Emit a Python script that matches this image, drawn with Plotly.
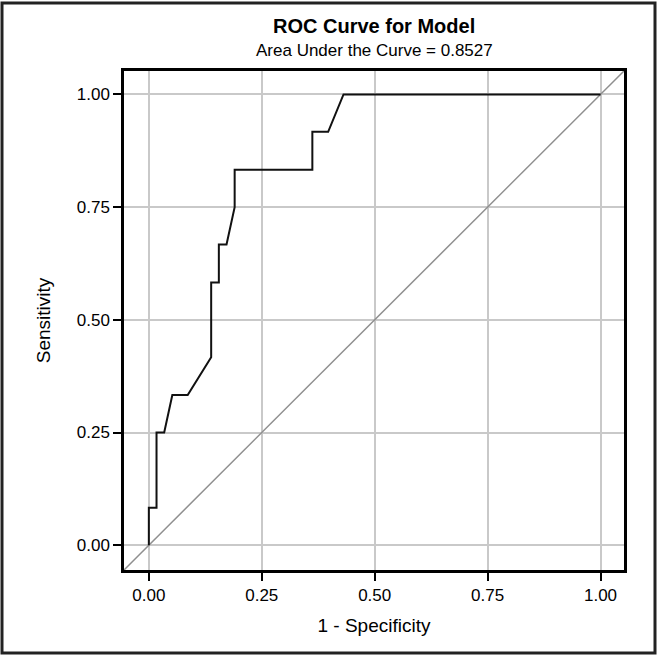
import plotly.graph_objects as go

# ROC curve points (1 - specificity, sensitivity)
fpr = [0.0, 0.0, 0.017, 0.017, 0.034, 0.052, 0.086, 0.138, 0.138, 0.155, 0.155,
       0.172, 0.190, 0.190, 0.362, 0.362, 0.397, 0.431, 1.0]
tpr = [0.0, 0.083, 0.083, 0.25, 0.25, 0.333, 0.333, 0.417, 0.583, 0.583, 0.667,
       0.667, 0.75, 0.833, 0.833, 0.917, 0.917, 1.0, 1.0]

tick_vals = [0.0, 0.25, 0.5, 0.75, 1.0]
tick_text = ["0.00", "0.25", "0.50", "0.75", "1.00"]
axis_range = [-0.055, 1.052]

title_text = "ROC Curve for Model"
subtitle_text = "Area Under the Curve = 0.8527"
x_title = "1 - Specificity"
y_title = "Sensitivity"

FONT = "Liberation Sans, Arial, Helvetica, sans-serif"
TXT = "#000000"

fig = go.Figure()
# reference diagonal across the full plotting range
fig.add_trace(go.Scatter(x=axis_range, y=axis_range, mode="lines",
                         line=dict(color="#8f8f8f", width=1.5),
                         hoverinfo="skip", showlegend=False))
fig.add_trace(go.Scatter(x=fpr, y=tpr, mode="lines",
                         line=dict(color="#111111", width=2),
                         showlegend=False))

axis_common = dict(
    range=axis_range, tickvals=tick_vals, ticktext=tick_text,
    showgrid=True, gridcolor="#c9c9c9", gridwidth=1.5,
    zeroline=False, showline=True, linecolor="#000000", linewidth=2.5,
    mirror=True, ticks="outside", ticklen=8, tickwidth=2, tickcolor="#000000",
    tickfont=dict(family=FONT, size=17, color=TXT),
)

fig.update_xaxes(**axis_common,
                 title=dict(text=x_title, font=dict(family=FONT, size=19, color=TXT),
                            standoff=15))
fig.update_yaxes(**axis_common,
                 title=dict(text=y_title, font=dict(family=FONT, size=19, color=TXT),
                            standoff=22))

fig.update_layout(
    width=657, height=657,
    margin=dict(l=124, r=33, t=71, b=87, pad=0),
    paper_bgcolor="white", plot_bgcolor="white",
    font=dict(family=FONT, color=TXT),
    annotations=[
        dict(text="<b>" + title_text + "</b>", xref="paper", yref="paper",
             x=0.5, y=1.091, xanchor="center", yanchor="middle", showarrow=False,
             font=dict(family=FONT, size=20, color=TXT)),
        dict(text=subtitle_text, xref="paper", yref="paper",
             x=0.5, y=1.042, xanchor="center", yanchor="middle", showarrow=False,
             font=dict(family=FONT, size=17, color=TXT)),
    ],
    shapes=[
        dict(type="rect", xref="paper", yref="paper",
             x0=-0.244, x1=1.062, y0=-0.1663, y1=1.1363,
             line=dict(color="#222222", width=3), layer="above"),
    ],
)

fig.write_html("out.html", config={"displayModeBar": False},
               post_script="document.body.style.margin='0';document.body.style.overflow='hidden';")
